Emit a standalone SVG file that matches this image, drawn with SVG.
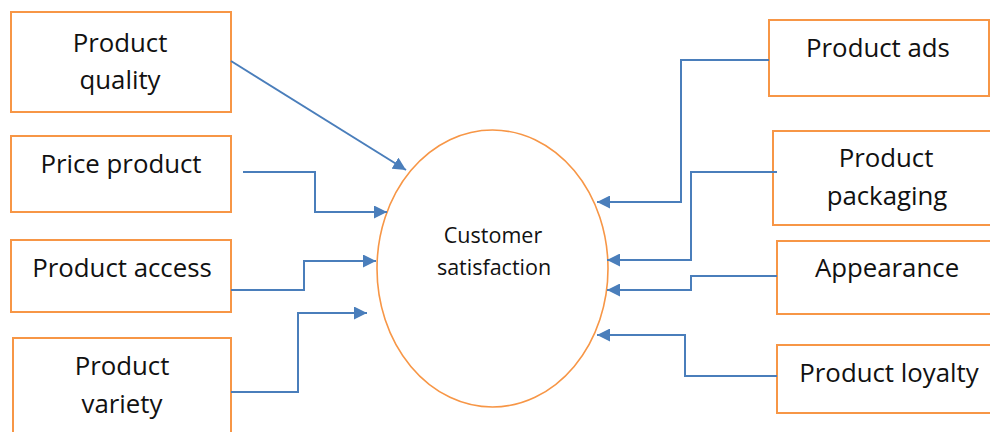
<svg xmlns="http://www.w3.org/2000/svg" width="990" height="432" viewBox="0 0 990 432">
  <style>
    .box { fill: #ffffff; stroke: #f79646; stroke-width: 2; }
    .hub { fill: #ffffff; stroke: #f79646; stroke-width: 1.6; }
    .lbl { font-family: "Open Sans", "Liberation Sans", sans-serif; font-size: 25.8px; fill: #111111; text-anchor: middle; }
    .hub-lbl { font-family: "Open Sans", "Liberation Sans", sans-serif; font-size: 21.5px; fill: #111111; text-anchor: middle; }
    .link { fill: none; stroke: #4a7ebb; stroke-width: 2; marker-end: url(#arrow); }
  </style>
  <defs>
    <marker id="arrow" markerUnits="userSpaceOnUse" markerWidth="14" markerHeight="13" refX="13" refY="6.5" orient="auto">
      <path d="M0,0 L13,6.5 L0,13 z" fill="#4a7ebb"/>
    </marker>
  </defs>
  <rect width="990" height="432" fill="#ffffff"/>

  <!-- central node -->
  <g id="customer-satisfaction">
    <ellipse class="hub" cx="492.5" cy="268.5" rx="115.5" ry="138.5"/>
    <text class="hub-lbl" x="493" y="243">Customer</text>
    <text class="hub-lbl" x="494" y="275">satisfaction</text>
  </g>

  <!-- left-hand factors -->
  <g id="product-quality">
    <rect class="box" x="11" y="12" width="220" height="100"/>
    <text class="lbl" x="120" y="52">Product</text>
    <text class="lbl" x="120" y="89">quality</text>
  </g>
  <g id="price-product">
    <rect class="box" x="11" y="136" width="220" height="76"/>
    <text class="lbl" x="121" y="173">Price product</text>
  </g>
  <g id="product-access">
    <rect class="box" x="11" y="240" width="220" height="72"/>
    <text class="lbl" x="122" y="277">Product access</text>
  </g>
  <g id="product-variety">
    <rect class="box" x="13" y="338" width="218" height="110"/>
    <text class="lbl" x="122" y="375">Product</text>
    <text class="lbl" x="122" y="413">variety</text>
  </g>

  <!-- right-hand factors -->
  <g id="product-ads">
    <rect class="box" x="769" y="20" width="220" height="76"/>
    <text class="lbl" x="878" y="57">Product ads</text>
  </g>
  <g id="product-packaging">
    <rect class="box" x="773" y="131" width="222" height="94"/>
    <text class="lbl" x="886" y="167">Product</text>
    <text class="lbl" x="887" y="205">packaging</text>
  </g>
  <g id="appearance">
    <rect class="box" x="777" y="241" width="218" height="73"/>
    <text class="lbl" x="887" y="277">Appearance</text>
  </g>
  <g id="product-loyalty">
    <rect class="box" x="777" y="345" width="218" height="68"/>
    <text class="lbl" x="889" y="382">Product loyalty</text>
  </g>

  <!-- connectors -->
  <g id="connectors">
    <path class="link" d="M231,61 L406,170"/>
    <path class="link" d="M243,172 H315 V212 H387"/>
    <path class="link" d="M231,290 H304 V261 H376"/>
    <path class="link" d="M231,392 H298 V313 H367"/>
    <path class="link" d="M769,60 H681 V202 H597"/>
    <path class="link" d="M777,172 H691 V260 H607"/>
    <path class="link" d="M777,276 H691 V290 H607"/>
    <path class="link" d="M777,376 H685 V335 H597"/>
  </g>
</svg>
